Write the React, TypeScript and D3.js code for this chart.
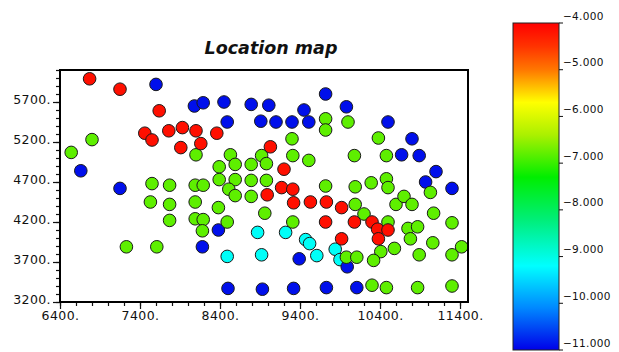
import React, { useRef, useEffect } from 'react';
import * as d3 from 'd3';

// well locations [x, y], grouped by colour
const redWells = [
  [6770, 5990], [7150, 5860], [7640, 5590], [7460, 5310], [7550, 5225], [7760, 5340],
  [7930, 5380], [8100, 5340], [8160, 5180], [7910, 5130], [8360, 5310], [9030, 5140],
  [9200, 4860], [9170, 4630], [9310, 4610], [8990, 4540], [9320, 4440], [9530, 4450],
  [9730, 4450], [9920, 4380], [9720, 4200], [10080, 4200], [10300, 4200], [10370, 4110],
  [10500, 4100], [10380, 3990], [9920, 3990],
];
const greenWells = [
  [6800, 5230], [6540, 5070], [8100, 5040], [8530, 5040], [8920, 5030], [9310, 5030],
  [9510, 4970], [8390, 4890], [8590, 4920], [8790, 4920], [8980, 4930], [8390, 4730],
  [8590, 4730], [8790, 4720], [8980, 4720], [7550, 4680], [7770, 4660], [8090, 4660],
  [8190, 4660], [8510, 4610], [8590, 4530], [8790, 4520], [7530, 4450], [7770, 4420],
  [8090, 4450], [8380, 4380], [8960, 4310], [7770, 4220], [8090, 4240], [8190, 4230],
  [8490, 4200], [8180, 4090], [7230, 3890], [7610, 3890], [9300, 5240], [9720, 5490],
  [9720, 5350], [10000, 5450], [10380, 5250], [10080, 5030], [10480, 5030], [9720, 4650],
  [10090, 4640], [10290, 4690], [10480, 4740], [10500, 4630], [11030, 4570], [10090, 4420],
  [10600, 4420], [10700, 4520], [10800, 4420], [11070, 4310], [10200, 4300], [9310, 4200],
  [10500, 4200], [10750, 4120], [10870, 4140], [11300, 4190], [10780, 3990], [11060, 3940],
  [10410, 3830], [10580, 3870], [10890, 3790], [11300, 3790], [11420, 3890], [9980, 3760],
  [10110, 3760], [10320, 3720], [10300, 3410], [10480, 3380], [10870, 3380], [11300, 3400],
];
const cyanWells = [
  [8870, 4070], [9220, 4070], [9470, 3980], [9520, 3930], [8490, 3770], [8920, 3790],
  [9610, 3780], [9840, 3860], [9900, 3730],
];
const blueWells = [
  [7600, 5920], [8080, 5650], [8190, 5690], [8450, 5700], [8790, 5670], [9010, 5660],
  [9450, 5600], [9720, 5800], [9980, 5640], [8490, 5450], [8910, 5460], [9100, 5450],
  [9300, 5450], [9510, 5450], [10500, 5450], [10800, 5240], [10670, 5040], [10890, 5030],
  [11100, 4830], [10970, 4700], [11300, 4620], [6660, 4840], [7150, 4620], [8380, 4100],
  [8180, 3890], [9390, 3740], [9990, 3640], [8500, 3370], [8930, 3360], [9320, 3370],
  [9730, 3380], [10110, 3380],
];
const groupValues = [-9.15, -10.9, -6.8, -4.15]; // cyan, blue, green, red

const xTicks = [6400, 7400, 8400, 9400, 10400, 11400];
const yTicks = [3200, 3700, 4200, 4700, 5200, 5700];
const legendTicks = [-4, -5, -6, -7, -8, -9, -10, -11];
const colorStops = [-4, -4.5, -5, -5.7, -6.4, -7.3, -8.2, -9.2, -10.1, -11];
const colorRange = ['#ff0000', '#ff3300', '#ff7700', '#ffff00', '#aaf000', '#00ee00', '#00ee77', '#00ffff', '#0088ff', '#0000e8'];

const App = () => {
  const svgRef = useRef(null);

  useEffect(() => {
    const svg = d3.select(svgRef.current);
    svg.selectAll('*').remove();

    const width = 619;
    const height = 352;
    const margin = { top: 70, right: 151, bottom: 50, left: 60 };
    const font = '"DejaVu Sans", sans-serif';

    svg.attr('width', width).attr('height', height);
    svg.append('rect').attr('width', width).attr('height', height).attr('fill', '#fff');

    const x = d3.scaleLinear().domain([6400, 11500]).range([margin.left, width - margin.right]);
    const y = d3.scaleLinear().domain([3200, 6100]).range([height - margin.bottom, margin.top]);
    const color = d3.scaleLinear().domain(colorStops).range(colorRange).clamp(true);

    // minor ticks
    const minorX = svg.append('g')
      .attr('transform', `translate(0, ${y(3200)})`)
      .call(d3.axisBottom(x).tickValues(d3.range(6400, 11501, 200)).tickSize(4).tickFormat(() => ''));
    const minorY = svg.append('g')
      .attr('transform', `translate(${x(6400)}, 0)`)
      .call(d3.axisLeft(y).tickValues(d3.range(3200, 6101, 100)).tickSize(4).tickFormat(() => ''));

    // major ticks + labels
    const xAxis = svg.append('g')
      .attr('transform', `translate(0, ${y(3200)})`)
      .call(d3.axisBottom(x).tickValues(xTicks).tickSize(7).tickPadding(2).tickFormat(d => d + '.'));
    const yAxis = svg.append('g')
      .attr('transform', `translate(${x(6400)}, 0)`)
      .call(d3.axisLeft(y).tickValues(yTicks).tickSize(7).tickPadding(2).tickFormat(d => d + '.'));

    [minorX, minorY, xAxis, yAxis].forEach(g => {
      g.select('.domain').remove();
      g.selectAll('line').attr('stroke', '#111').attr('stroke-width', 1.2);
    });
    [xAxis, yAxis].forEach(g => {
      g.selectAll('text')
        .attr('font-family', font)
        .attr('font-size', 12.5)
        .attr('letter-spacing', 0.4)
        .attr('fill', '#111');
    });
    yAxis.selectAll('text').attr('dy', '0.15em');

    // wells
    const groups = [cyanWells, blueWells, greenWells, redWells];
    groups.forEach((pts, i) => {
      svg.append('g')
        .selectAll('circle')
        .data(pts)
        .join('circle')
        .attr('cx', d => x(d[0]))
        .attr('cy', d => y(d[1]))
        .attr('r', 6.3)
        .attr('fill', color(groupValues[i]))
        .attr('stroke', '#1a1a1a')
        .attr('stroke-width', 1);
    });

    // frame
    svg.append('rect')
      .attr('x', x(6400))
      .attr('y', y(6100))
      .attr('width', x(11500) - x(6400))
      .attr('height', y(3200) - y(6100))
      .attr('fill', 'none')
      .attr('stroke', '#000')
      .attr('stroke-width', 2);

    // Title
    svg.append('text')
      .attr('x', 271)
      .attr('y', 54)
      .attr('text-anchor', 'middle')
      .attr('font-family', font)
      .attr('font-size', 17.5)
      .attr('font-weight', 'bold')
      .attr('font-style', 'italic')
      .attr('fill', '#111')
      .text('Location map');

    // colour bar
    const cb = d3.scaleLinear().domain([-4, -11]).range([23, 350]);
    const grad = svg.append('defs').append('linearGradient')
      .attr('id', 'cbar')
      .attr('x1', 0).attr('y1', 0).attr('x2', 0).attr('y2', 1);
    grad.selectAll('stop')
      .data(colorStops)
      .join('stop')
      .attr('offset', d => (cb(d) - 23) / (350 - 23))
      .attr('stop-color', d => color(d));

    svg.append('rect')
      .attr('x', 513)
      .attr('y', cb(-4))
      .attr('width', 46)
      .attr('height', cb(-11) - cb(-4))
      .attr('fill', 'url(#cbar)')
      .attr('stroke', '#222')
      .attr('stroke-width', 1);

    const lg = svg.append('g')
      .selectAll('g')
      .data(legendTicks)
      .join('g')
      .attr('transform', d => `translate(559, ${cb(d)})`);
    lg.append('line').attr('x1', 0).attr('x2', 4).attr('stroke', '#111').attr('stroke-width', 1);
    lg.append('text')
      .attr('x', 4)
      .attr('y', -3.5)
      .attr('font-family', font)
      .attr('font-size', 10.5)
      .attr('letter-spacing', 0.3)
      .attr('fill', '#111')
      .text(d => d3.format('.3f')(d));
  }, []);

  return <svg ref={svgRef} style={{ position: 'absolute', left: 0, top: 0, display: 'block' }}></svg>;
};

export default App;
